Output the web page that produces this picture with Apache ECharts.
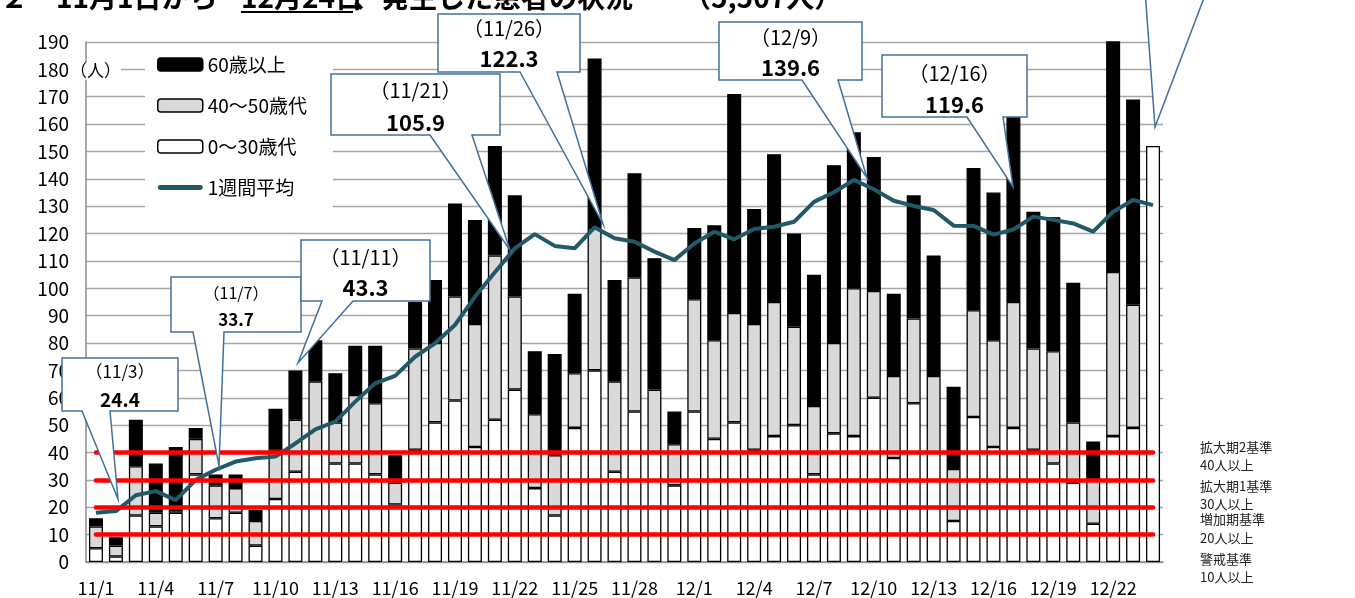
<!DOCTYPE html>
<html><head><meta charset="utf-8">
<script src="https://cdn.jsdelivr.net/npm/echarts@6/dist/echarts.min.js"></script>
<style>html,body{margin:0;padding:0;background:#fff}#c{width:1355px;height:598px}</style>
</head><body><div id="c"></div>
<script>
const categories = ['11/1','11/2','11/3','11/4','11/5','11/6','11/7','11/8','11/9','11/10','11/11','11/12','11/13','11/14','11/15','11/16','11/17','11/18','11/19','11/20','11/21','11/22','11/23','11/24','11/25','11/26','11/27','11/28','11/29','11/30','12/1','12/2','12/3','12/4','12/5','12/6','12/7','12/8','12/9','12/10','12/11','12/12','12/13','12/14','12/15','12/16','12/17','12/18','12/19','12/20','12/21','12/22','12/23','12/24'];
const age0to30 = [5,2,17,13,18,32,16,18,6,23,33,40,36,36,32,21,41,51,59,42,52,63,27,17,49,70,33,55,40,28,55,45,51,41,46,50,32,47,46,60,38,58,40,15,53,42,49,41,36,29,14,46,49,152];
const age40to50 = [8,4,18,5,1,13,12,9,9,18,19,26,15,25,26,8,37,29,38,45,60,34,27,22,20,52,33,49,23,15,41,36,40,46,49,36,25,33,54,39,30,31,28,19,39,39,46,37,41,22,16,60,45,null];
const age60plus = [3,3,17,18,23,4,4,5,4,15,18,15,18,18,21,10,17,23,34,38,40,37,23,37,29,62,37,38,48,12,26,42,80,42,54,34,48,65,57,49,30,45,44,30,52,54,68,50,49,51,14,92,75,null];
const weeklyAvg = [18.0,18.6,24.4,25.9,22.6,30.0,33.7,36.7,37.9,38.5,43.3,48.5,51.3,58.6,65.3,68.0,75.0,79.9,86.6,96.9,105.9,114.6,119.8,115.5,114.6,122.3,118.3,117.0,113.4,110.3,116.4,120.7,117.9,121.7,122.5,124.3,131.6,135.1,139.6,136.2,132.0,130.1,128.6,122.9,122.8,119.6,121.5,126.2,125.0,123.7,120.7,128.0,132.3,130.4];
const thresholds = [10,20,30,40];
const thresholdNames = ['警戒基準','増加期基準','拡大期1基準','拡大期2基準'];
const thresholdTexts = ['10人以上','20人以上','30人以上','40人以上'];
const calloutDates = ['（11/3）','（11/7）','（11/11）','（11/21）','（11/26）','（12/9）','（12/16）'];
const calloutValues = ['24.4','33.7','43.3','105.9','122.3','139.6','119.6'];
const seriesNames = ['60歳以上','40～50歳代','0～30歳代','1週間平均'];
const titleParts = ['２　11月1日から', '12月24日', '、発生した患者の状況', '（5,507人）'];
const unitText = '（人）';

const FONT = '"Noto Sans CJK JP", "Noto Sans", sans-serif';

// annotation layout (pixels)
const calloutLayout = [
  {box:[62,358,178,411], ptr:[82,110], tip:[118,499], y1:372, y2:400, f1:17, f2:19},
  {box:[171,277,301,332], ptr:[193,224], tip:[219,466], y1:293, y2:320, f1:16, f2:17},
  {box:[301,240,430,301], ptr:[322,353], tip:[298,363], y1:257, y2:288, f1:20, f2:22},
  {box:[331,74,500,135], ptr:[430,472], tip:[510,250], y1:90, y2:123, f1:20, f2:22},
  {box:[438,14,580,72], ptr:[520,557], tip:[603,224], y1:28, y2:59, f1:20, f2:22},
  {box:[719,22,862,80], ptr:[802,838], tip:[867,178], y1:37, y2:68, f1:20, f2:22},
  {box:[882,55,1027,117], ptr:[967,1003], tip:[1013,187], y1:73, y2:105, f1:20, f2:22}
];
const titleX = [0, 241, 353, 683];
const thresholdLabelY = [[559,577],[519,538],[486,504],[447,465]];

const graphics = [];
titleParts.forEach((t, i) => {
  graphics.push({type:'text', x:titleX[i], y:-17, z:100, style:{text:t, font:'bold 28px '+FONT, fill:'#000', textVerticalAlign:'top'}});
});
graphics.push({type:'line', z:100, shape:{x1:241, y1:12, x2:353, y2:12}, style:{stroke:'#000', lineWidth:2}});
graphics.push({type:'text', x:70, y:71, z:20, style:{text:unitText, font:'17px '+FONT, fill:'#000', textVerticalAlign:'middle', backgroundColor:'#fff'}});
calloutLayout.forEach((c, i) => {
  const [L,T,R,B] = c.box;
  graphics.push({type:'polygon', z:50, shape:{points:[[L,T],[R,T],[R,B],[c.ptr[1],B],c.tip,[c.ptr[0],B],[L,B]]},
    style:{fill:'#fff', stroke:'#41719c', lineWidth:1.5}});
  const cx = (L+R)/2;
  graphics.push({type:'text', z:51, x:cx, y:c.y1, style:{text:calloutDates[i], font:c.f1+'px '+FONT, fill:'#000', textAlign:'center', textVerticalAlign:'middle'}});
  graphics.push({type:'text', z:51, x:cx, y:c.y2, style:{text:calloutValues[i], font:'bold '+c.f2+'px '+FONT, fill:'#000', textAlign:'center', textVerticalAlign:'middle'}});
});
graphics.push({type:'polygon', z:50, shape:{points:[[1145,-10],[1155,127],[1207,-10]]}, style:{fill:'#fff', stroke:'#41719c', lineWidth:1.5}});
thresholdNames.forEach((n, i) => {
  graphics.push({type:'text', x:1200, y:thresholdLabelY[i][0], style:{text:n, font:'13px '+FONT, fill:'#222', textVerticalAlign:'middle'}});
  graphics.push({type:'text', x:1200, y:thresholdLabelY[i][1], style:{text:thresholdTexts[i], font:'13px '+FONT, fill:'#222', textVerticalAlign:'middle'}});
});

const chart = echarts.init(document.getElementById('c'), null, {renderer:'canvas'});
const barBase = {type:'bar', stack:'total', barWidth:14, z:2};
chart.setOption({
  animation:false,
  backgroundColor:'#fff',
  textStyle:{fontFamily:FONT},
  grid:{left:86, right:192, top:42, bottom:36},
  legend:{
    orient:'vertical', left:145, top:47, padding:[8,26,11,12],
    itemWidth:45, itemHeight:13, itemGap:22, backgroundColor:'#fff',
    textStyle:{fontSize:19, color:'#000', fontFamily:FONT},
    data:[
      {name:seriesNames[0], itemStyle:{color:'#000', borderColor:'#000', borderWidth:1.5}},
      {name:seriesNames[1], itemStyle:{color:'#d9d9d9', borderColor:'#000', borderWidth:1.5}},
      {name:seriesNames[2], itemStyle:{color:'#fff', borderColor:'#000', borderWidth:1.5}},
      {name:seriesNames[3], icon:'path://M2,0 L43,0 A2.5,2.5 0 0 1 43,5 L2,5 A2.5,2.5 0 0 1 2,0 Z', itemStyle:{color:'#215968'}}
    ]
  },
  xAxis:{
    type:'category', data:categories, boundaryGap:true,
    axisLine:{show:true, lineStyle:{color:'#8c8c8c', width:1.5}},
    axisTick:{show:false},
    axisLabel:{interval:2, color:'#000', fontSize:18, margin:17, fontFamily:FONT}
  },
  yAxis:{
    type:'value', min:0, max:190, interval:10,
    axisLine:{show:true, lineStyle:{color:'#8c8c8c', width:1.5}},
    axisTick:{show:false},
    axisLabel:{color:'#000', fontSize:19, margin:17, fontFamily:FONT},
    splitLine:{show:true, lineStyle:{color:'#a6a6a6', width:1.3}}
  },
  series:[
    Object.assign({}, barBase, {name:seriesNames[2], data:age0to30, itemStyle:{color:'#fff', borderColor:'#000', borderWidth:1.3}}),
    Object.assign({}, barBase, {name:seriesNames[1], data:age40to50, itemStyle:{color:'#d9d9d9', borderColor:'#000', borderWidth:1.3}}),
    Object.assign({}, barBase, {name:seriesNames[0], data:age60plus, itemStyle:{color:'#000', borderColor:'#000', borderWidth:1.3}}),
    {type:'line', name:'基準', data:[], z:3, silent:true,
      markLine:{silent:true, symbol:'none', label:{show:false},
        lineStyle:{color:'#ff0000', width:4.5, type:'solid', cap:'round'},
        data:thresholds.map(v => [{coord:[categories[0], v]}, {coord:[categories[categories.length-1], v]}])}},
    {type:'line', name:seriesNames[3], data:weeklyAvg, z:4, symbol:'none', showSymbol:false,
      color:'#215968', itemStyle:{color:'#215968'},
      lineStyle:{color:'#215968', width:4}}
  ],
  graphic:{elements:graphics}
});
</script></body></html>
